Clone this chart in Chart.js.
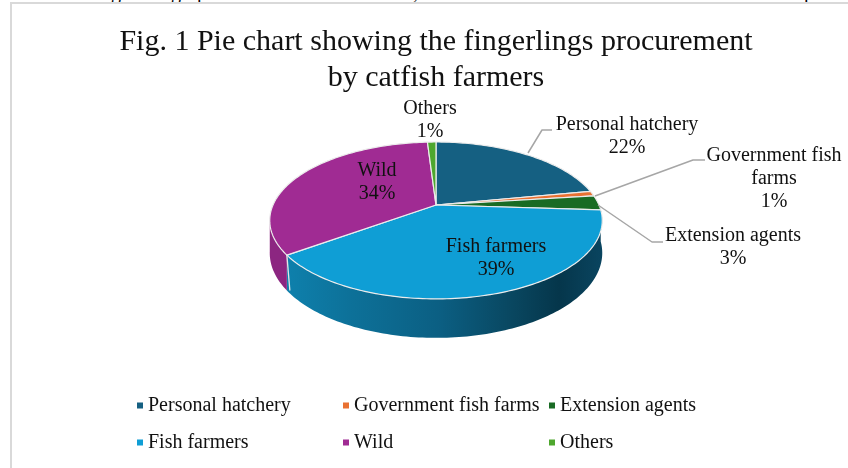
<!DOCTYPE html>
<html>
<head>
<meta charset="utf-8">
<style>
  html, body { margin: 0; padding: 0; background: #fff; overflow: hidden; width: 848px; height: 468px; }
  #frame { position: absolute; left: 10px; top: 2px; width: 860px; height: 480px; border: 2px solid #d9d9d9; box-sizing: border-box; }
  #wrap { position: absolute; left: 11px; top: 3px; width: 850px; height: 465px; }
  .clip { position: absolute; left: 0; top: 0; width: 848px; height: 2px; overflow: hidden; }
  .clip span { position: absolute; top: -18px; font: 20px/20px "Liberation Serif", serif; color: #000; }
</style>
<script src="https://cdn.jsdelivr.net/npm/chart.js@4"></script>
</head>
<body>
<div class="clip" id="cut"></div>
<div id="frame"></div>
<div id="wrap"><canvas id="pie" width="850" height="465"></canvas></div>
<script>
const titleLines = ['Fig. 1 Pie chart showing the fingerlings procurement', 'by catfish farmers'];
const categories = ['Personal hatchery', 'Government fish farms', 'Extension agents', 'Fish farmers', 'Wild', 'Others'];
const shares = [22, 1, 3, 39, 34, 1];
const sliceColors = ['#156082', '#E97132', '#196B24', '#0F9ED5', '#A02B93', '#4EA72E'];

// descenders of the body text line cut off above the figure
const cutGlyphs = ['g', 'g', 'p', ',', 'p'];
const cutGlyphX = [111, 171, 197, 413, 804];
cutGlyphs.forEach((g, i) => {
  const s = document.createElement('span');
  s.textContent = g;
  s.style.left = cutGlyphX[i] + 'px';
  document.getElementById('cut').appendChild(s);
});

const FONT = '20px "Liberation Serif", serif';
const INK = '#111';
const OFF_X = 11, OFF_Y = 3;   // canvas offset in the page

// perspective of the tilted disc
const PIE_Y = 205 - OFF_Y, AX = 163, AY = 75.4, P = 0.197, DEPTH = 31.3;

function project(cx, t) {
  const u = Math.sin(t), v = Math.cos(t), d = 1 + P * v;
  return { x: cx + AX * u / d, y: PIE_Y - AY * v / d, drop: DEPTH / d };
}

function sideBand(ctx, cx, from, to, fill) {
  const steps = Math.max(2, Math.ceil((to - from) / 0.02));
  const top = [], bottom = [];
  for (let i = 0; i <= steps; i++) {
    const p = project(cx, from + (to - from) * i / steps);
    top.push(p);
    bottom.push({ x: p.x, y: p.y + p.drop });
  }
  ctx.beginPath();
  top.forEach((p, i) => i ? ctx.lineTo(p.x, p.y) : ctx.moveTo(p.x, p.y));
  bottom.reverse().forEach(p => ctx.lineTo(p.x, p.y));
  ctx.closePath();
  ctx.fillStyle = fill;
  ctx.fill();
}

function sideGradient(ctx, shade) {
  const g = ctx.createLinearGradient(287 - OFF_X, 0, 603 - OFF_X, 0);
  shade.forEach(s => g.addColorStop(s[0], s[1]));
  return g;
}

// label blocks: one centre x, first line y, lines of text
function blockLabels(total) {
  const pct = shares.map(s => Math.round(s / total * 100) + '%');
  return [
    { x: 627, y: 125, lines: [categories[0], pct[0]] },
    { x: 774, y: 156, lines: ['Government fish', 'farms', pct[1]] },
    { x: 733, y: 236, lines: [categories[2], pct[2]] },
    { x: 496, y: 247, lines: [categories[3], pct[3]] },
    { x: 377, y: 171, lines: [categories[4], pct[4]] },
    { x: 430, y: 109, lines: [categories[5], pct[5]] }
  ];
}

const leaderLines = [
  [[528, 153], [542, 130], [552, 130]],
  [[595, 196], [693, 160], [705, 160]],
  [[598, 205], [652, 242], [663, 242]]
];

const legendColX = [137, 343, 549];
const legendRowY = [405.5, 442.5];

const disc3d = {
  id: 'disc3d',
  beforeDatasetsDraw(chart) {
    const ctx = chart.ctx;
    const arcs = chart.getDatasetMeta(0).data;
    const cx = arcs[0].x;
    const turn = Math.PI / 2;   // library angles start at -90deg

    // near wall, only the fish farmers and wild slices face the viewer
    const edge = Math.PI / 2 + Math.asin(P);
    const fish = arcs[3], wild = arcs[4];
    sideBand(ctx, cx, fish.startAngle + turn, fish.endAngle + turn, sideGradient(ctx, [
      [0, '#0e80ac'], [0.2, '#0d7199'], [0.48, '#0b5f83'], [0.72, '#09465f'], [0.86, '#05364b'], [1, '#0a4560']
    ]));
    sideBand(ctx, cx, wild.startAngle + turn, 2 * Math.PI - edge + 0.02, '#8c2681');

    const seam = project(cx, wild.startAngle + turn);
    ctx.beginPath();
    ctx.moveTo(seam.x, seam.y);
    ctx.lineTo(seam.x + 3, seam.y + seam.drop);
    ctx.strokeStyle = '#e6e6e6';
    ctx.lineWidth = 1.3;
    ctx.stroke();

    // top face
    arcs.forEach((arc, i) => {
      const from = arc.startAngle + turn, to = arc.endAngle + turn;
      const steps = Math.max(2, Math.ceil((to - from) / 0.02));
      ctx.beginPath();
      ctx.moveTo(cx, PIE_Y);
      for (let k = 0; k <= steps; k++) {
        const p = project(cx, from + (to - from) * k / steps);
        ctx.lineTo(p.x, p.y);
      }
      ctx.closePath();
      ctx.fillStyle = sliceColors[i];
      ctx.fill();
      ctx.strokeStyle = '#ececec';
      ctx.lineWidth = 1.2;
      ctx.lineJoin = 'round';
      ctx.stroke();
    });
    return false;
  },
  afterDraw(chart) {
    const ctx = chart.ctx;
    ctx.save();
    ctx.translate(-OFF_X, -OFF_Y);

    ctx.strokeStyle = '#a6a6a6';
    ctx.lineWidth = 1.5;
    leaderLines.forEach(l => {
      ctx.beginPath();
      l.forEach((p, i) => i ? ctx.lineTo(p[0], p[1]) : ctx.moveTo(p[0], p[1]));
      ctx.stroke();
    });

    ctx.font = FONT;
    ctx.fillStyle = INK;
    ctx.textAlign = 'center';
    ctx.textBaseline = 'middle';
    const total = shares.reduce((a, b) => a + b, 0);
    blockLabels(total).forEach(b => {
      b.lines.forEach((t, i) => ctx.fillText(t, b.x, b.y + i * 23));
    });

    // legend, three columns by two rows
    ctx.textAlign = 'left';
    categories.forEach((name, i) => {
      const x = legendColX[i % 3], y = legendRowY[Math.floor(i / 3)];
      ctx.fillStyle = sliceColors[i];
      ctx.fillRect(x, y - 3, 6, 6);
      ctx.fillStyle = INK;
      ctx.fillText(name, x + 11, y);
    });
    ctx.restore();
  }
};

new Chart(document.getElementById('pie'), {
  type: 'pie',
  data: {
    labels: categories,
    datasets: [{ data: shares, backgroundColor: sliceColors }]
  },
  options: {
    responsive: false,
    animation: false,
    layout: { padding: { top: 18 } },
    plugins: {
      legend: { display: false },
      tooltip: { enabled: false },
      title: {
        display: true,
        text: titleLines,
        color: INK,
        padding: { top: 3, bottom: 0 },
        font: { family: '"Liberation Serif", serif', size: 30, weight: 'normal', lineHeight: 1.2 }
      }
    }
  },
  plugins: [disc3d]
});
</script>
</body>
</html>
